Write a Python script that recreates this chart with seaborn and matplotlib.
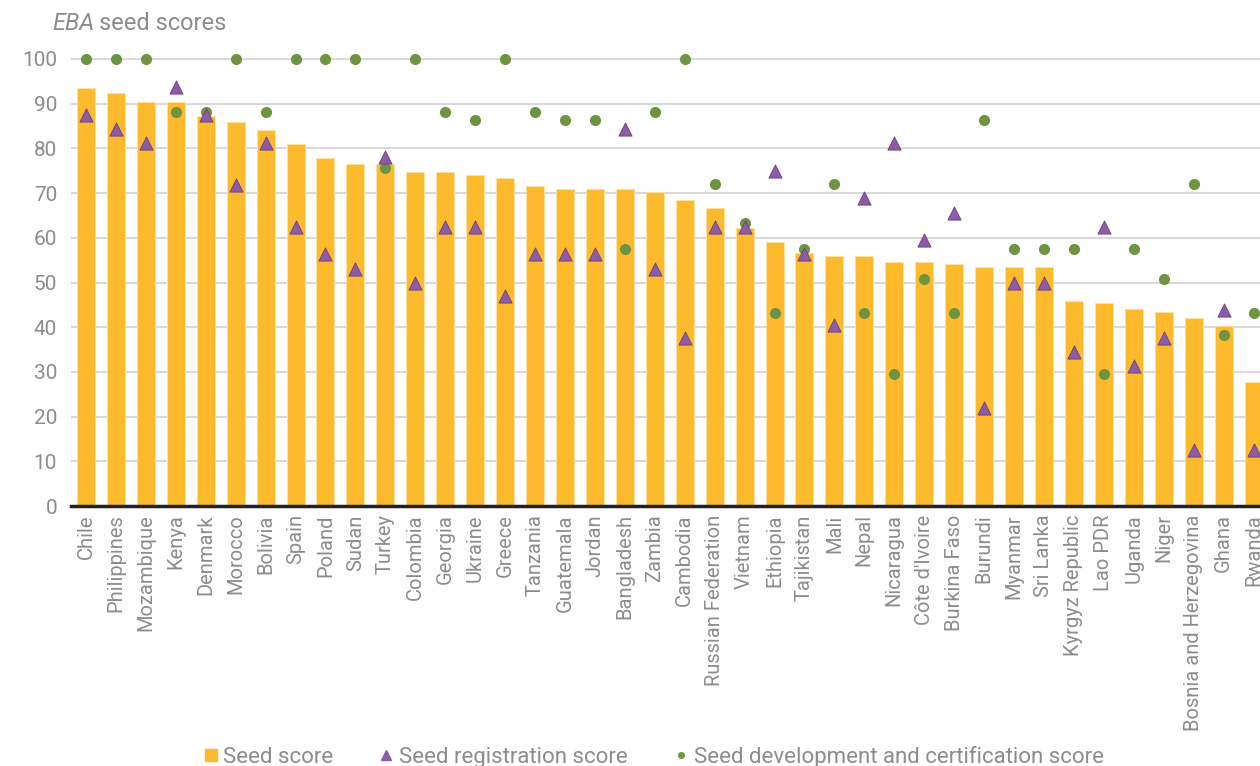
import matplotlib
matplotlib.use("Agg")
import matplotlib.pyplot as plt
from matplotlib.lines import Line2D
import seaborn as sns
import pandas as pd

countries = ["Chile", "Philippines", "Mozambique", "Kenya", "Denmark", "Morocco", "Bolivia",
             "Spain", "Poland", "Sudan", "Turkey", "Colombia", "Georgia", "Ukraine", "Greece",
             "Tanzania", "Guatemala", "Jordan", "Bangladesh", "Zambia", "Cambodia",
             "Russian Federation", "Vietnam", "Ethiopia", "Tajikistan", "Mali", "Nepal",
             "Nicaragua", "Côte d'Ivoire", "Burkina Faso", "Burundi", "Myanmar", "Sri Lanka",
             "Kyrgyz Republic", "Lao PDR", "Uganda", "Niger", "Bosnia and Herzegovina",
             "Ghana", "Rwanda"]
seed_score = [93.5, 92.4, 90.4, 90.4, 87.2, 85.9, 84.1, 81.0, 77.9, 76.5, 76.5, 74.7, 74.7,
              74.0, 73.4, 71.6, 70.9, 70.9, 70.9, 70.2, 68.5, 66.7, 62.2, 59.1, 56.6, 55.9,
              55.9, 54.6, 54.6, 54.1, 53.5, 53.5, 53.5, 45.9, 45.4, 44.1, 43.4, 42.1, 40.3,
              27.7]
registration = [87.5, 84.4, 81.3, 93.8, 87.5, 71.9, 81.3, 62.5, 56.3, 53.1, 78.1, 50.0, 62.5,
                62.5, 46.9, 56.3, 56.3, 56.3, 84.4, 53.1, 37.5, 62.5, 62.5, 75.0, 56.3, 40.6,
                68.8, 81.3, 59.4, 65.6, 21.9, 50.0, 50.0, 34.4, 62.5, 31.3, 37.5, 12.5, 43.8,
                12.5]
development = [100, 100, 100, 88.1, 88.1, 100, 88.1, 100, 100, 100, 75.7, 100, 88.1, 86.4,
               100, 88.1, 86.4, 86.4, 57.6, 88.1, 100, 72.0, 63.2, 43.2, 57.6, 72.0, 43.2,
               29.5, 50.7, 43.2, 86.4, 57.6, 57.6, 57.6, 29.5, 57.6, 50.7, 72.0, 38.2, 43.2]
legend_labels = ["Seed score", "Seed registration score",
                 "Seed development and certification score"]

bar_color = "#FDBA2C"
tri_color = "#8E5BA6"
dot_color = "#6E9441"
gray = "#8C8C8C"

df = pd.DataFrame({"country": countries, "seed": seed_score,
                   "reg": registration, "dev": development})

sns.set_theme(style="white")
plt.rcParams["font.family"] = ["Roboto", "DejaVu Sans"]

fig = plt.figure(figsize=(12.6, 7.66), dpi=100)
W, H = 1260, 766
left_px, right_px = 71, 1268.5
zero_px = 506
px_per_unit = 4.47
ytop = 104
ax = fig.add_axes([left_px / W, (H - zero_px) / H, (right_px - left_px) / W,
                   ytop * px_per_unit / H])

sns.barplot(data=df, x="country", y="seed", color=bar_color, width=0.6,
            saturation=1, ax=ax, zorder=2, edgecolor="#FFE3A0", linewidth=0.6)
sns.stripplot(data=df, x="country", y="reg", jitter=False, marker="^", size=9.5,
              color=tri_color, edgecolor="#6B3F80", linewidth=0.6, ax=ax, zorder=4)
sns.stripplot(data=df, x="country", y="dev", jitter=False, marker="o", size=8,
              color=dot_color, edgecolor=dot_color, linewidth=0, ax=ax, zorder=3)

ax.set_xlim(-0.5, len(countries) - 0.5)
ax.set_ylim(0, ytop)
ax.set_yticks(range(0, 101, 10))
ax.grid(axis="y", color="#D9D9D9", linewidth=1.5, zorder=0)
ax.set_axisbelow(True)
for s in ["top", "right", "left"]:
    ax.spines[s].set_visible(False)
ax.spines["bottom"].set_color("#222222")
ax.spines["bottom"].set_linewidth(2.5)
ax.spines["bottom"].set_zorder(5)
ax.set_xlabel("")
ax.set_ylabel("")
ax.tick_params(axis="y", labelsize=15, labelcolor=gray, length=0, pad=10)
ax.tick_params(axis="x", labelsize=14.5, labelcolor=gray, length=0, pad=6)
plt.setp(ax.get_xticklabels(), rotation=90, ha="center", va="top")

# Title: italic "EBA" followed by regular "seed scores"
t1 = fig.text(52 / W, 1 - 23 / H, "EBA", fontsize=17, color=gray, style="italic",
              ha="left", va="center")
fig.canvas.draw()
bb = t1.get_window_extent(renderer=fig.canvas.get_renderer())
fig.text((bb.x1 + 5) / W, 1 - 23 / H, "seed scores", fontsize=17, color=gray,
         ha="left", va="center")

handles = [
    Line2D([], [], marker="s", linestyle="none", markersize=8, color=bar_color),
    Line2D([], [], marker="^", linestyle="none", markersize=7, color=tri_color),
    Line2D([], [], marker="o", linestyle="none", markersize=4, color=dot_color),
]
fig.legend(handles, legend_labels, loc="center", bbox_to_anchor=(654 / W, 9 / H),
           ncol=3, frameon=False, fontsize=16, handlelength=0.55,
           handletextpad=0.3, columnspacing=2.1, labelcolor=gray,
           borderpad=0, borderaxespad=0)

fig.savefig("out.png", dpi=100)
